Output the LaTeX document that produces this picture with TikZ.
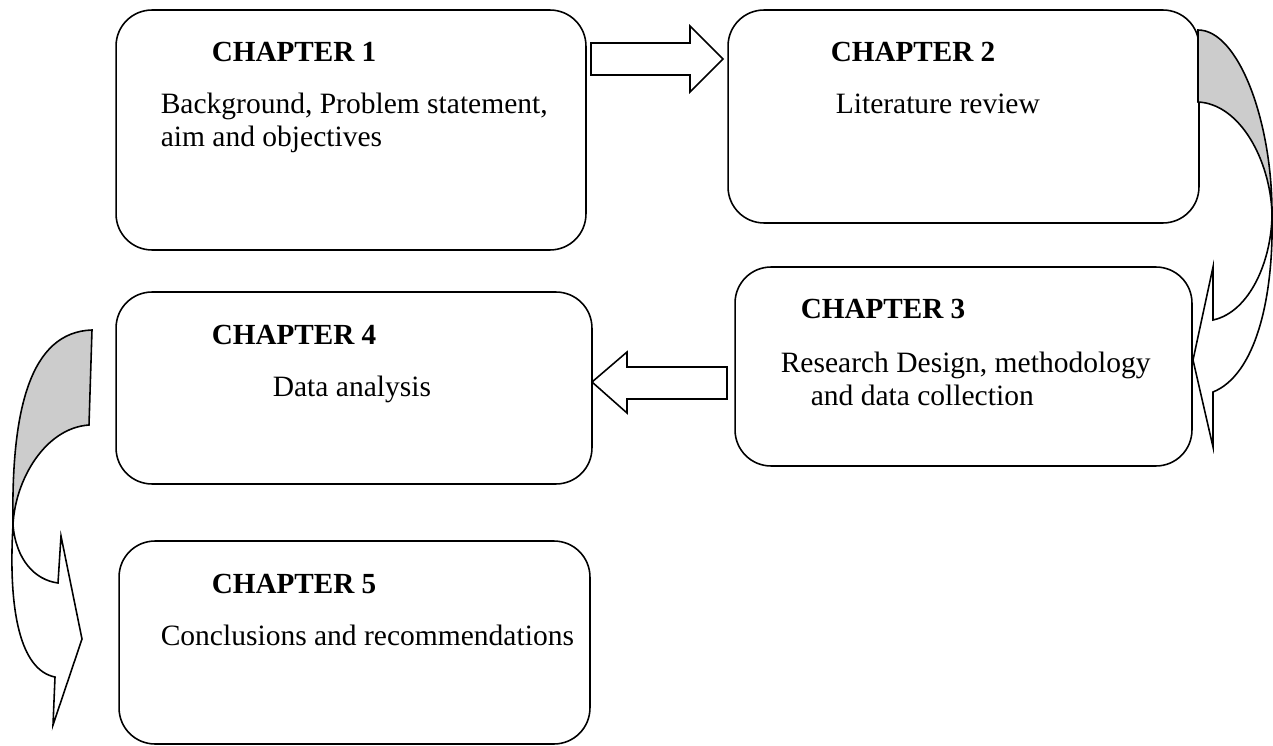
\documentclass[tikz,border=0pt]{standalone}
\usepackage{fontspec}
\setmainfont{Liberation Serif}
\usetikzlibrary{positioning,calc}

\begin{document}
\begin{tikzpicture}[x=0.02cm, y=-0.02cm, line width=0.9pt,
    chbox/.style={draw, rounded corners=0.72cm, inner sep=0},
    chtitle/.style={font=\fontsize{16.6}{19}\selectfont\bfseries, anchor=base, inner sep=0},
    chtext/.style={font=\fontsize{16.8}{19}\selectfont, anchor=base west, inner sep=0}]
    \useasboundingbox (0,0) rectangle (1273,746);
    % chapter boxes
    \node[chbox, minimum width=9.4cm, minimum height=4.8cm] (ch1) at (351,130) {};
    \node[chbox, minimum width=9.42cm, minimum height=4.26cm] (ch2) at (963.5,116.5) {};
    \node[chbox, minimum width=9.14cm, minimum height=3.98cm] (ch3) at (963.5,366.5) {};
    \node[chbox, minimum width=9.52cm, minimum height=3.84cm] (ch4) at (354,388) {};
    \node[chbox, minimum width=9.42cm, minimum height=4.06cm] (ch5) at (354.5,642.5) {};
    % texts
    \node[chtitle] (t1) at (294,62) {CHAPTER 1};
    \node[chtext] (b1a) at (160,114) {Background, Problem statement,};
    \node[chtext] (b1b) at (160,147) {aim and objectives};
    \node[chtitle] (t2) at (913,62) {CHAPTER 2};
    \node[chtext] (b2) at (835,114) {Literature review};
    \node[chtitle] (t3) at (883,318) {CHAPTER 3};
    \node[chtext] (b3a) at (780,372) {Research Design, methodology};
    \node[chtext] (b3b) at (810,405) {and data collection};
    \node[chtitle] (t4) at (294,344) {CHAPTER 4};
    \node[chtext] (b4) at (272,396) {Data analysis};
    \node[chtitle] (t5) at (294,593) {CHAPTER 5};
    \node[chtext] (b5) at (160,645) {Conclusions and recommendations};
    % straight block arrows
    \draw[fill=white] (591,43) -- (690,43) -- (690,26) -- (723,59) -- (690,92) -- (690,75) -- (591,75) -- cycle;
    \draw[fill=white] (727,367) -- (627,367) -- (627,352) -- (592,382) -- (627,413) -- (627,399) -- (727,399) -- cycle;
    % curved arrow ch2 -> ch3
    \draw[fill=black!20] (1198,30) .. controls (1238,30) and (1272,120) .. (1272,213)
        .. controls (1270,160) and (1240,104) .. (1198,102) -- cycle;
    \draw[fill=white] (1272,213) .. controls (1272,260) and (1250,312) .. (1213,320)
        -- (1213,267) -- (1193,360) -- (1213,447) -- (1213,392)
        .. controls (1255,375) and (1274,300) .. (1272,213) -- cycle;
    % curved arrow ch4 -> ch5
    \draw[fill=black!20] (92,330) .. controls (30,332) and (11,410) .. (13,525)
        .. controls (15,480) and (45,428) .. (89,425) -- cycle;
    \draw[fill=white] (13,525) .. controls (16,560) and (35,580) .. (58,583)
        -- (61,536) -- (82,639) -- (53,725) -- (55,677)
        .. controls (20,670) and (8,610) .. (13,525) -- cycle;
\end{tikzpicture}
\end{document}
